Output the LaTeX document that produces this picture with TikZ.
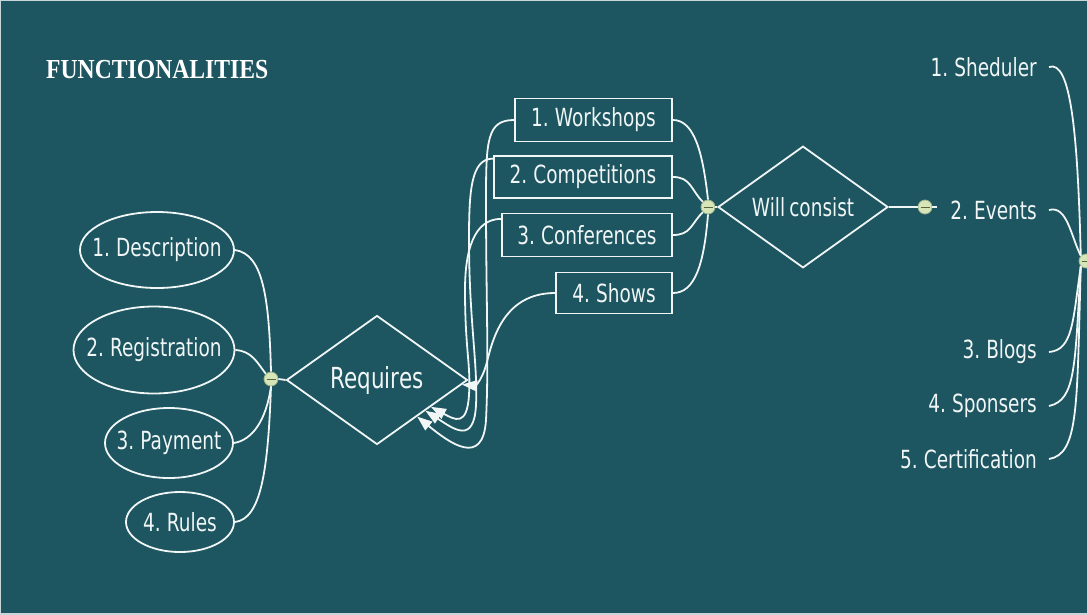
\documentclass[tikz,border=0pt]{standalone}
\usepackage{fontspec}
\setmainfont{DejaVu Sans}[FakeStretch=0.74,WordSpace=0.7]
\newfontfamily\titlefont{Liberation Serif}[FakeStretch=0.86]
\usetikzlibrary{shapes.geometric,arrows.meta,calc}
\definecolor{bg}{RGB}{29,85,96}
\definecolor{jfill}{RGB}{214,230,184}
\definecolor{jdraw}{RGB}{160,178,140}
\definecolor{jminus}{RGB}{90,100,60}
\definecolor{frame}{RGB}{200,214,218}
\definecolor{ink}{RGB}{240,246,246}
\tikzset{
  lbl/.style={text=ink,font=\fontsize{25}{27}\selectfont},
  ell/.style={ellipse,draw=ink,line width=1.8pt,inner sep=0pt,lbl},
  box/.style={rectangle,draw=ink,line width=1.8pt,inner sep=0pt,lbl},
  dia/.style={diamond,draw=ink,line width=1.8pt,inner sep=0pt,lbl},
  rlab/.style={lbl,anchor=east,inner sep=0pt},
  junc/.style={circle,minimum size=14pt,inner sep=0pt,fill=jfill,draw=jdraw,line width=0.8pt,
    path picture={\draw[jminus,line width=1pt] ([xshift=-4.5pt]path picture bounding box.center) -- ([xshift=4.5pt]path picture bounding box.center);}},
  conn/.style={draw=ink,line width=1.8pt},
  arr/.style={conn,-{Triangle[length=15pt,width=11pt]}}
}
\begin{document}
\begin{tikzpicture}[x=1pt,y=-1pt]
\useasboundingbox (0,0) rectangle (1087,614);
\fill[bg] (0,0) rectangle (1087,614);
\draw[frame,line width=2pt] (1087,0) -- (0,0) -- (0,614) -- (1087,614);

% title
\node[text=white,font=\titlefont\bfseries\fontsize{27.5}{29}\selectfont,anchor=west,inner sep=0pt] (title) at (46,70) {FUNCTIONALITIES};

% left ellipses
\node[ell,minimum width=154pt,minimum height=76pt] (d) at (157,250) {\makebox[0pt]{1. Description}};
\node[ell,minimum width=161pt,minimum height=87pt] (r) at (154,350) {\makebox[0pt]{2. Registration}};
\node[ell,minimum width=128pt,minimum height=70pt] (p) at (169,443) {\makebox[0pt]{3. Payment}};
\node[ell,minimum width=108pt,minimum height=60pt] (ru) at (180,522) {\makebox[0pt]{4. Rules}};

% Requires diamond
\node[dia,minimum width=181pt,minimum height=129pt,font=\fontsize{29}{31}\selectfont] (req) at (377,380) {Requires};
\node[junc] (j1) at (271,379) {};

\draw[conn] (d.east) .. controls +(28,4) and +(-2,-75) .. (j1.north);
\draw[conn] (r.east) .. controls +(16,1) and +(-9,-12) .. (j1.north west);
\draw[conn] (p.east) .. controls +(18,-3) and +(-5,35) .. (j1.south);
\draw[conn] (ru.east) .. controls +(26,-3) and +(-3,85) .. (j1.south);
\draw[conn] (j1.east) -- (req.west);

% rectangles
\node[box,minimum width=157pt,minimum height=43pt] (w) at (593.5,120) {1. Workshops};
\node[box,minimum width=178pt,minimum height=42pt] (c) at (583,177) {2. Competitions};
\node[box,minimum width=170pt,minimum height=43pt] (cf) at (587,235) {3. Conferences};
\node[box,minimum width=116pt,minimum height=41pt] (s) at (614,293) {4. Shows};

% arrow targets on Requires lower-right edge
\coordinate (a1) at ($(req.east)!0.56!(req.south)$);
\coordinate (a2) at ($(req.east)!0.47!(req.south)$);
\coordinate (a3) at ($(req.east)!0.41!(req.south)$);
\coordinate (a4) at ($(req.east)!0.07!(req.south)$);
\coordinate (cs) at ($(c.north west)!0.08!(c.south west)$);
\coordinate (cfs) at ($(cf.north west)!0.14!(cf.south west)$);

\draw[arr] (w.west) .. controls +(-27,0) and +(0,-60) .. (486,200) .. controls +(0,100) and +(3,-60) .. (486,420) .. controls +(-3,48) and +(32,26) .. (a1);
\draw[arr] (cs) .. controls +(-22,0) and +(0,-50) .. (469,240) .. controls +(0,80) and +(2,-40) .. (476,405) .. controls +(-2,40) and +(28,18) .. (a2);
\draw[arr] (cfs) .. controls +(-27,0) and +(0,-40) .. (465,290) .. controls +(0,60) and +(2,-30) .. (469,395) .. controls +(-2,32) and +(24,13) .. (a3);
\draw[arr] (s.west) .. controls +(-50,0) and +(6,-25) .. (487,362) .. controls +(-6,22) and +(12,1) .. (a4);

% Will consist
\node[junc] (j2) at (708,207) {};
\node[dia,minimum width=170pt,minimum height=112pt] (wc) at (803,207) {Will consist};
\draw[conn] (w.east) .. controls +(22,0) and +(-5,-45) .. (j2.north);
\draw[conn] (c.east) .. controls +(18,0) and +(-12,-12) .. (j2.north west);
\draw[conn] (cf.east) .. controls +(18,0) and +(-12,12) .. (j2.south west);
\draw[conn] (s.east) .. controls +(22,0) and +(-4,50) .. (j2.south);
\draw[conn] (j2.east) -- (wc.west);
\node[junc] (j3) at (925,207) {};
\coordinate (stub) at (937,207);
\draw[conn] (wc.east) -- (j3.west);
\draw[conn] (j3.east) -- (stub);

% right column
\node[rlab] (l1) at (1037,67) {1. Sheduler};
\node[rlab] (l2) at (1037,210) {2. Events};
\node[rlab] (l3) at (1037,352) {3. Blogs};
\node[rlab] (l4) at (1037,406) {4. Sponsers};
\node[rlab] (l5) at (1037,459) {5. Certification};
\node[junc] (j4) at (1086,261) {};
\draw[conn] ([xshift=12pt]l1.east) .. controls +(22,-8) and +(-3,-120) .. (j4.north west);
\draw[conn] ([xshift=12pt]l2.east) .. controls +(18,-5) and +(-10,-20) .. (j4.north west);
\draw[conn] ([xshift=12pt]l3.east) .. controls +(24,-2) and +(-8,55) .. (j4.south west);
\draw[conn] ([xshift=12pt]l4.east) .. controls +(27,-6) and +(-6,100) .. (j4.south west);
\draw[conn] ([xshift=12pt]l5.east) .. controls +(30,-5) and +(-4,140) .. (j4.south west);
\end{tikzpicture}
\end{document}
